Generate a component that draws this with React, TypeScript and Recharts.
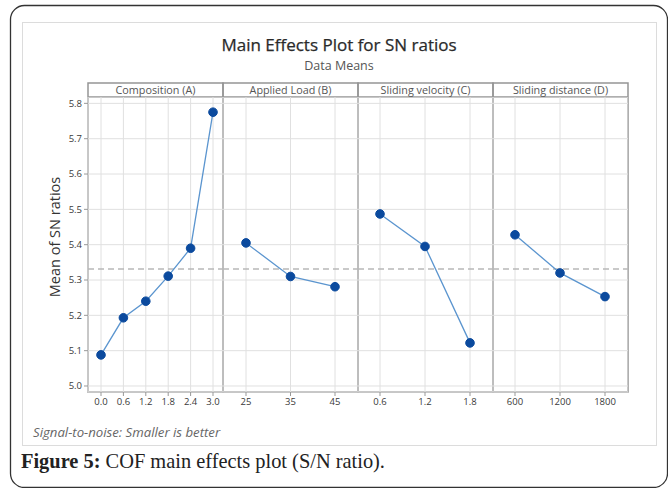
import { LineChart, Line, XAxis, YAxis, CartesianGrid, ReferenceLine } from 'recharts'

// factor levels and mean SN ratios
const compLevels = ['0.0', '0.6', '1.2', '1.8', '2.4', '3.0']
const compMeans = [5.088, 5.193, 5.24, 5.311, 5.39, 5.775]
const loadLevels = ['25', '35', '45']
const loadMeans = [5.405, 5.31, 5.281]
const velLevels = ['0.6', '1.2', '1.8']
const velMeans = [5.487, 5.395, 5.122]
const distLevels = ['600', '1200', '1800']
const distMeans = [5.428, 5.32, 5.253]
const yTicks = [5.0, 5.1, 5.2, 5.3, 5.4, 5.5, 5.6, 5.7, 5.8]
const grandMean = 5.331

const FONT = '"Open Sans", "Noto Sans", sans-serif'
const PANEL_W = 135
const PANEL_LEFT = 88
const PLOT_TOP = 97
const PLOT_H = 295
const AXIS_H = 23
const Y_AXIS_W = 58

const panels = [
  { title: 'Composition (A)', levels: compLevels, means: compMeans, pad: { left: 13, right: 10 } },
  { title: 'Applied Load (B)', levels: loadLevels, means: loadMeans, pad: { left: 23, right: 23 } },
  { title: 'Sliding velocity (C)', levels: velLevels, means: velMeans, pad: { left: 22, right: 23 } },
  { title: 'Sliding distance (D)', levels: distLevels, means: distMeans, pad: { left: 22, right: 23 } }
]

function Panel ({ idx }: { idx: number }) {
  const p = panels[idx]
  const first = idx === 0
  const data = p.levels.map((level, i) => ({ level, mean: p.means[i] }))
  const left = PANEL_LEFT + PANEL_W * idx - (first ? Y_AXIS_W : 0)
  return (
    <div style={{ position: 'absolute', left, top: PLOT_TOP }}>
      <LineChart
        width={PANEL_W + (first ? Y_AXIS_W : 0)}
        height={PLOT_H + AXIS_H}
        data={data}
        margin={{ top: 0, right: 0, bottom: 0, left: 0 }}
      >
        <CartesianGrid stroke='#e0e0e0' strokeWidth={1} />
        <XAxis
          dataKey='level'
          type='category'
          height={AXIS_H}
          padding={p.pad}
          axisLine={false}
          tickSize={4}
          tickLine={{ stroke: '#999' }}
          tick={{ fontSize: 9.5, fill: '#3a3a3a', fontFamily: FONT }}
          interval={0}
        />
        <YAxis
          type='number'
          domain={[4.983, 5.818]}
          ticks={yTicks}
          hide={!first}
          width={Y_AXIS_W}
          axisLine={false}
          tickSize={4}
          tickLine={{ stroke: '#999' }}
          tick={{ fontSize: 9.5, fill: '#3a3a3a', fontFamily: FONT }}
          tickFormatter={(v: number) => v.toFixed(1)}
        />
        <ReferenceLine y={grandMean} stroke='#b8b8b8' strokeWidth={1.5} strokeDasharray='6 4' />
        <Line
          dataKey='mean'
          type='linear'
          stroke='#5b95cf'
          strokeWidth={1.3}
          dot={{ r: 4.3, fill: '#0b4a9e', stroke: '#0b4a9e', strokeWidth: 1 }}
          isAnimationActive={false}
        />
      </LineChart>
    </div>
  )
}

export default function App () {
  return (
    <div style={{ position: 'absolute', left: 0, top: 0, width: 668, height: 488, background: '#fff', overflow: 'hidden' }}>
      <svg width={668} height={488} style={{ position: 'absolute', left: 0, top: 0 }}>
        <rect x={10.5} y={5.5} width={657} height={482} rx={14} fill='#fff' stroke='#333' strokeWidth={1.3} />
        <rect x={22.5} y={22.5} width={634} height={423} fill='#fff' stroke='#dcdcdc' strokeWidth={1} />
        <text x={339} y={51} textAnchor='middle' fontFamily={FONT} fontSize={17} fill='#2a2a2a' stroke='#2a2a2a' strokeWidth={0.25}>Main Effects Plot for SN ratios</text>
        <text x={339} y={70} textAnchor='middle' fontFamily={FONT} fontSize={12.5} fill='#555'>Data Means</text>
        <text x={60} y={237} transform='rotate(-90 60 237)' textAnchor='middle' fontFamily={FONT} fontSize={14.5} fill='#333'>Mean of SN ratios</text>
        {panels.map((p, i) => (
          <g key={p.title}>
            <rect x={PANEL_LEFT + PANEL_W * i} y={83} width={PANEL_W} height={PLOT_TOP - 83 + PLOT_H} fill='none' stroke='#959595' strokeWidth={1.5} />
            <line x1={PANEL_LEFT + PANEL_W * i} x2={PANEL_LEFT + PANEL_W * (i + 1)} y1={PLOT_TOP} y2={PLOT_TOP} stroke='#959595' strokeWidth={1.5} />
            <text x={PANEL_LEFT + PANEL_W * i + PANEL_W / 2} y={94} textAnchor='middle' fontFamily={FONT} fontSize={10.8} fill='#555'>{p.title}</text>
          </g>
        ))}
        <text x={33} y={437} fontFamily={FONT} fontSize={13.2} fontStyle='italic' fill='#666'>Signal-to-noise: Smaller is better</text>
        <text x={21} y={468} fontFamily='"Liberation Serif", "DejaVu Serif", serif' fontSize={20.4} fill='#222'>
          <tspan fontWeight='bold'>Figure 5:</tspan> COF main effects plot (S/N ratio).
        </text>
      </svg>
      {panels.map((p, i) => <Panel key={p.title} idx={i} />)}
    </div>
  )
}
